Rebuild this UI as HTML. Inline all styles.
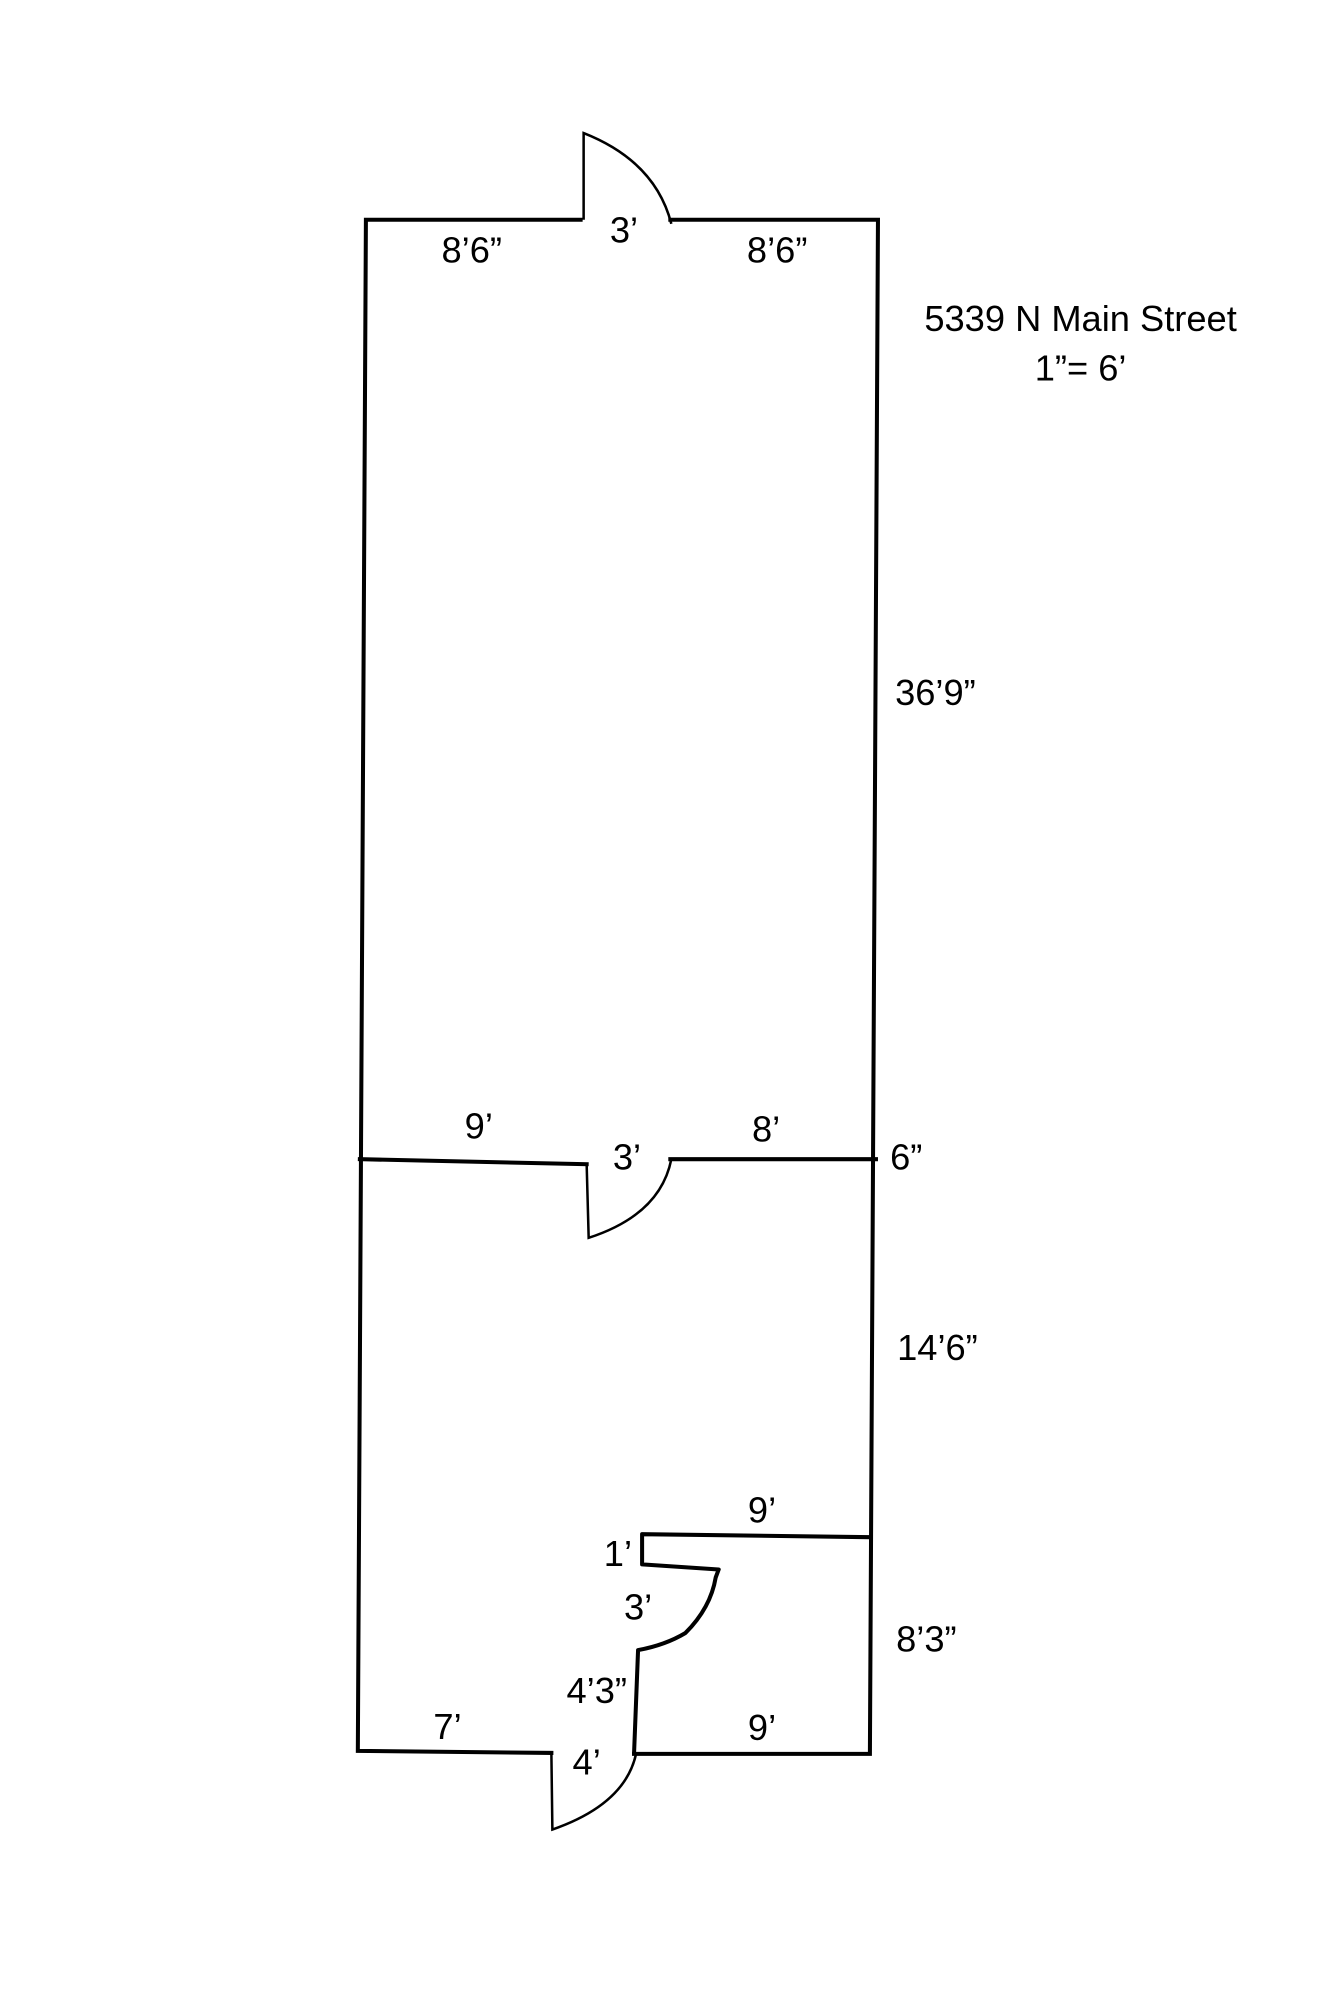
<!DOCTYPE html>
<html><head><meta charset="utf-8"><style>
html,body{margin:0;padding:0;background:#fff;}
svg{display:block}
text{font-family:"Liberation Sans",Arial,sans-serif;font-size:36px;fill:#000;text-anchor:middle;dominant-baseline:central}
</style></head><body>
<svg width="1329" height="2000" viewBox="0 0 1329 2000" xmlns="http://www.w3.org/2000/svg">
<g transform="scale(1.008)">
<g fill="none" stroke="#000" stroke-width="4" stroke-linecap="square">
<polyline points="576,218 363,218 355,1737 547,1739"/>
<polyline points="665,218 871,218 863,1740 629,1740"/>
<polyline points="357,1150 582,1155"/>
<line x1="665" y1="1150" x2="869" y2="1150"/>
</g>
<g fill="none" stroke="#000" stroke-width="4" stroke-linejoin="round">
<path d="M629,1740 L633,1637 Q660,1632 680,1620 Q705,1595 710,1565 L713,1557 L637,1552 L637,1522 L863,1525"/>
</g>
<g fill="none" stroke="#000" stroke-width="2.5">
<path d="M579,218 L579,132 Q650,160 666,222"/>
<path d="M582,1155 L584,1228 Q655,1205 666,1150"/>
<path d="M547,1739 L548,1815 Q620,1790 631,1740"/>
</g>
<text x="468" y="248">8’6”</text>
<text x="619" y="228">3’</text>
<text x="771" y="248">8’6”</text>
<text x="1072" y="316">5339 N Main Street</text>
<text x="1072" y="365">1”= 6’</text>
<text x="928" y="687">36’9”</text>
<text x="475" y="1117">9’</text>
<text x="622" y="1148">3’</text>
<text x="760" y="1120">8’</text>
<text x="899" y="1148">6”</text>
<text x="930" y="1337">14’6”</text>
<text x="756" y="1498">9’</text>
<text x="613" y="1541">1’</text>
<text x="633" y="1594">3’</text>
<text x="919" y="1626">8’3”</text>
<text x="592" y="1677">4’3”</text>
<text x="444" y="1713">7’</text>
<text x="756" y="1714">9’</text>
<text x="582" y="1748">4’</text>
</g>
</svg>
</body></html>
